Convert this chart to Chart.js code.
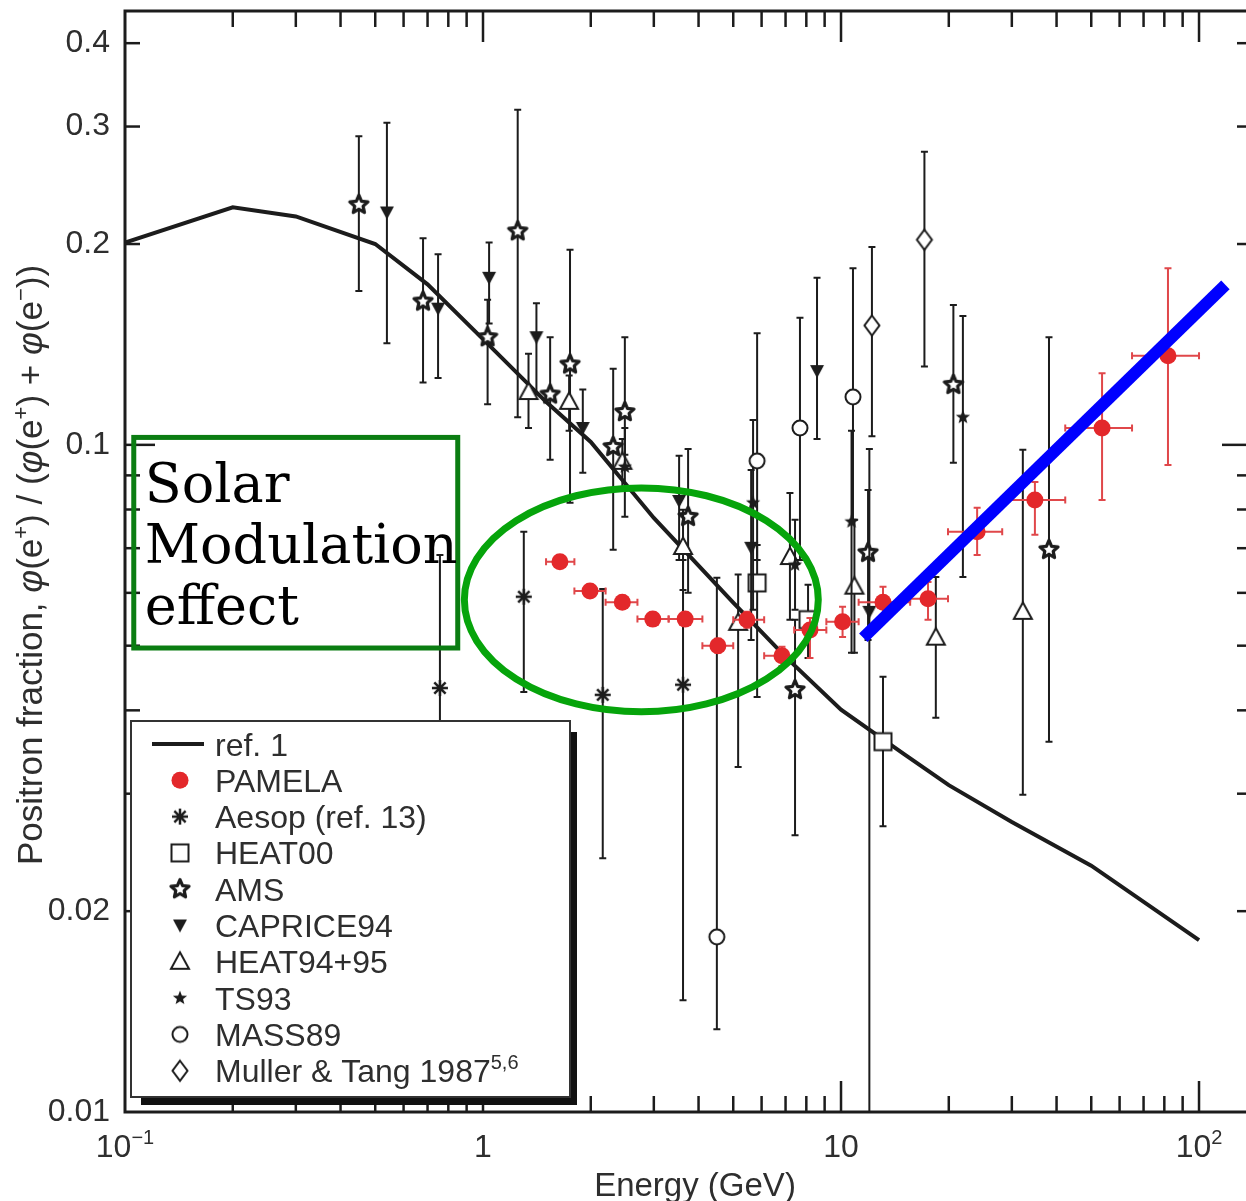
<!DOCTYPE html>
<html><head><meta charset="utf-8">
<title>Positron fraction</title>
<script src="https://cdn.jsdelivr.net/npm/chart.js@4.4.1/dist/chart.umd.min.js"></script>
<style>
html,body{margin:0;padding:0;background:#fff;overflow:hidden;}
canvas{display:block;}
</style></head><body>
<canvas id="chart" width="1256" height="1201"></canvas>
<script>
// ---------- data: energy (GeV) and positron fraction ----------
// ref. 1 secondary-production model curve
const refE = [0.1, 0.2, 0.3, 0.5, 0.7, 1, 1.5, 2, 3, 5, 7, 10, 15, 20, 30, 50, 100];
const refF = [0.201, 0.227, 0.220, 0.200, 0.174, 0.144, 0.116, 0.101, 0.0777, 0.0580, 0.0481, 0.0401, 0.0344, 0.0309, 0.0272, 0.0234, 0.0181];

// PAMELA (bin edges in energy, stat. errors in fraction)
const pamE   = [1.64, 1.99, 2.45, 2.98, 3.67, 4.53, 5.46, 6.84, 8.19, 10.1, 13.1, 17.5, 24.0, 34.8, 53.6, 81.9];
const pamELo = [1.5, 1.8, 2.2, 2.7, 3.3, 4.1, 5.0, 6.1, 7.4, 9.1, 11.2, 15.6, 19.9, 28.2, 42.3, 65];
const pamEHi = [1.8, 2.2, 2.7, 3.3, 4.1, 5.0, 6.1, 7.4, 9.1, 11.2, 15.6, 19.9, 28.2, 42.3, 65, 100];
const pamF   = [0.0668, 0.0604, 0.0581, 0.0548, 0.0548, 0.0500, 0.0547, 0.0483, 0.0528, 0.0543, 0.0581, 0.0588, 0.0741, 0.0827, 0.106, 0.136];
const pamFLo = [0.0654, 0.0592, 0.0570, 0.0537, 0.0537, 0.0488, 0.0532, 0.0466, 0.0479, 0.0515, 0.0550, 0.0547, 0.0684, 0.0733, 0.0827, 0.0933];
const pamFHi = [0.0682, 0.0617, 0.0594, 0.0560, 0.0560, 0.0512, 0.0562, 0.0498, 0.0550, 0.0572, 0.0613, 0.0623, 0.0805, 0.0880, 0.128, 0.184];

// Aesop (ref. 13)
const aesE  = [0.758, 1.30, 2.16, 3.62];
const aesF  = [0.0432, 0.0592, 0.0422, 0.0437];
const aesHi = [0.0684, 0.0741, 0.0608, 0.0672];
const aesLo = [0.0300, 0.0426, 0.0240, 0.0147];

// HEAT00
const h00E  = [5.83, 8.09, 13.1];
const h00F  = [0.0621, 0.0547, 0.0359];
const h00Hi = [0.0708, 0.0617, 0.0449];
const h00Lo = [0.0419, 0.0479, 0.0268];

// AMS
const amsE  = [0.450, 0.680, 1.03, 1.25, 1.54, 1.75, 2.31, 2.49, 3.74, 7.44, 11.9, 20.6, 38.1];
const amsF  = [0.229, 0.164, 0.145, 0.209, 0.119, 0.132, 0.0993, 0.112, 0.0780, 0.0429, 0.0689, 0.123, 0.0696];
const amsHi = [0.290, 0.204, 0.165, 0.318, 0.145, 0.196, 0.130, 0.145, 0.0986, 0.0547, 0.0856, 0.162, 0.145];
const amsLo = [0.170, 0.124, 0.115, 0.110, 0.0950, 0.0819, 0.0696, 0.0966, 0.0600, 0.0260, 0.0510, 0.0940, 0.0359];

// CAPRICE94
const capE  = [0.539, 0.749, 1.04, 1.41, 1.90, 3.53, 5.61, 8.57, 12.0];
const capF  = [0.223, 0.160, 0.178, 0.145, 0.106, 0.0824, 0.0701, 0.129, 0.0562];
const capHi = [0.304, 0.193, 0.201, 0.163, 0.121, 0.0963, 0.0917, 0.178, 0.0986];
const capLo = [0.142, 0.126, 0.152, 0.119, 0.0908, 0.0672, 0.0510, 0.102, 0.008];

// HEAT94+95
const h95E  = [1.34, 1.74, 2.45, 3.62, 5.16, 7.20, 10.9, 18.4, 32.2];
const h95F  = [0.120, 0.116, 0.0943, 0.0703, 0.0541, 0.0679, 0.0613, 0.0514, 0.0562];
const h95Hi = [0.137, 0.127, 0.102, 0.0799, 0.0639, 0.0847, 0.0772, 0.0634, 0.0983];
const h95Lo = [0.106, 0.105, 0.0856, 0.0606, 0.0329, 0.0547, 0.0488, 0.0390, 0.0299];

// TS93
const tsE  = [2.49, 5.68, 7.44, 10.7, 21.9];
const tsF  = [0.0927, 0.0819, 0.0661, 0.0767, 0.110];
const tsHi = [0.106, 0.109, 0.0772, 0.105, 0.156];
const tsLo = [0.0780, 0.0566, 0.0566, 0.0488, 0.0634];

// MASS89
const massE  = [4.50, 5.83, 7.68, 10.8];
const massF  = [0.0183, 0.0946, 0.106, 0.118];
const massHi = [0.0632, 0.147, 0.155, 0.184];
const massLo = [0.0133, 0.0672, 0.0672, 0.0772];

// Muller & Tang 1987
const mulE  = [12.2, 17.1];
const mulF  = [0.151, 0.203];
const mulHi = [0.198, 0.275];
const mulLo = [0.103, 0.131];

// rising trend line drawn over the high-energy PAMELA points
const trendE = [11.54, 118.5];
const trendF = [0.0514, 0.1737];

// highlighted regions (energy / fraction bounds)
const noteBoxE = [0.1058, 0.850];
const noteBoxF = [0.0496, 0.1026];
const noteLines = ['Solar', 'Modulation', 'effect'];
const ovalE = [0.887, 8.64];
const ovalF = [0.0398, 0.0862];

// axis ticks
const xTickValues = [0.1, 1, 10, 100];
const xTickText   = ['10', '1', '10', '10'];
const xTickSup    = ['\u22121', '', '', '2'];
const yTickValues = [0.01, 0.02, 0.1, 0.2, 0.3, 0.4];
const yTickText   = ['0.01', '0.02', '0.1', '0.2', '0.3', '0.4'];

// ---------- styling ----------
const INK = '#1c1c1c';
const TXT = '#2e2e2e';
const SANS = '"Liberation Sans", Arial, sans-serif';

function marker(kind) {
  const s = 26, c = document.createElement('canvas');
  c.width = s; c.height = s;
  const g = c.getContext('2d');
  g.translate(s / 2, s / 2);
  g.strokeStyle = INK; g.fillStyle = '#fff'; g.lineWidth = 2; g.lineJoin = 'miter';
  const poly = (p) => { g.beginPath(); p.forEach(([x, y], i) => i ? g.lineTo(x, y) : g.moveTo(x, y)); g.closePath(); };
  const star = (R, r) => {
    g.beginPath();
    for (let i = 0; i < 10; i++) {
      const a = -Math.PI / 2 + i * Math.PI / 5, q = i % 2 ? r : R;
      g.lineTo(Math.cos(a) * q, Math.sin(a) * q);
    }
    g.closePath();
  };
  switch (kind) {
    case 'square': g.fillRect(-8.5, -8.5, 17, 17); g.strokeRect(-8.5, -8.5, 17, 17); break;
    case 'triUp': poly([[0, -9.5], [9, 7], [-9, 7]]); g.fill(); g.stroke(); break;
    case 'triDown': g.fillStyle = INK; poly([[-7, -6], [7, -6], [0, 7]]); g.fill(); break;
    case 'circle': g.beginPath(); g.arc(0, 0, 7.5, 0, Math.PI * 2); g.fill(); g.stroke(); break;
    case 'diamond': poly([[0, -10], [7.5, 0], [0, 10], [-7.5, 0]]); g.fill(); g.stroke(); break;
    case 'starOpen': g.lineWidth = 3.2; g.lineJoin = 'round'; star(9.5, 4.4); g.fill(); g.stroke(); break;
    case 'starFilled': g.fillStyle = INK; star(7.5, 3.2); g.fill(); break;
    case 'asterisk':
      g.lineWidth = 2.5; g.beginPath();
      for (let k = 0; k < 4; k++) {
        const a = k * Math.PI / 4;
        g.moveTo(-Math.cos(a) * 8, -Math.sin(a) * 8);
        g.lineTo(Math.cos(a) * 8, Math.sin(a) * 8);
      }
      g.stroke(); break;
  }
  return c;
}

const pts = (xs, ys) => xs.map((x, i) => ({ x, y: ys[i] }));
const black = (label, xs, ys, lo, hi, kind, order) => ({
  label, data: pts(xs, ys), pointStyle: marker(kind), pointRadius: 9, order,
  errY: [lo, hi], errColor: INK
});

const datasets = [
  { label: 'trend', data: pts(trendE, trendF), showLine: true, borderColor: '#0000ff', borderWidth: 12,
    borderCapStyle: 'butt', pointRadius: 0, order: 0 },
  { label: 'PAMELA', data: pts(pamE, pamF), pointStyle: 'circle', pointRadius: 8.5,
    backgroundColor: '#e3282b', borderColor: '#e3282b', borderWidth: 0, order: 1,
    errY: [pamFLo, pamFHi], errX: [pamELo, pamEHi], errColor: '#e0474a' },
  black('Muller & Tang 1987', mulE, mulF, mulLo, mulHi, 'diamond', 2),
  black('MASS89', massE, massF, massLo, massHi, 'circle', 3),
  black('TS93', tsE, tsF, tsLo, tsHi, 'starFilled', 4),
  black('HEAT94+95', h95E, h95F, h95Lo, h95Hi, 'triUp', 5),
  black('CAPRICE94', capE, capF, capLo, capHi, 'triDown', 6),
  black('AMS', amsE, amsF, amsLo, amsHi, 'starOpen', 7),
  black('HEAT00', h00E, h00F, h00Lo, h00Hi, 'square', 8),
  black('Aesop (ref. 13)', aesE, aesF, aesLo, aesHi, 'asterisk', 9),
  { label: 'ref. 1', data: pts(refE, refF), showLine: true, borderColor: INK, borderWidth: 4,
    pointRadius: 0, order: 10, tension: 0 }
];
const legendOrder = ['ref. 1', 'PAMELA', 'Aesop (ref. 13)', 'HEAT00', 'AMS', 'CAPRICE94', 'HEAT94+95', 'TS93', 'MASS89', 'Muller & Tang 1987'];
const legendSup = { 'Muller & Tang 1987': '5,6' };

// ---------- text helpers ----------
function font(r, size) {
  const s = r.sup ? Math.round(size * 0.62) : size;
  return (r.it ? 'italic ' : '') + s + 'px ' + SANS;
}
function runWidth(ctx, runs, size) {
  let w = 0;
  runs.forEach(r => { ctx.font = font(r, size); w += ctx.measureText(r.t).width; });
  return w;
}
function drawRuns(ctx, runs, x, y, size) {
  let cx = x;
  runs.forEach(r => {
    ctx.font = font(r, size);
    ctx.fillText(r.t, cx, r.sup ? y - size * 0.4 : y);
    cx += ctx.measureText(r.t).width;
  });
}

// ---------- plugins ----------
const errorBars = {
  id: 'errorBars',
  beforeDatasetDraw(chart, args) {
    const ds = chart.data.datasets[args.index];
    if (!ds.errY) return;
    const { ctx, chartArea: a, scales: { x: sx, y: sy } } = chart;
    ctx.save();
    ctx.beginPath(); ctx.rect(a.left, a.top, a.right - a.left, a.bottom - a.top); ctx.clip();
    ctx.strokeStyle = ds.errColor; ctx.lineWidth = 2;
    const cap = 3.5;
    ds.data.forEach((p, i) => {
      const px = sx.getPixelForValue(p.x), py = sy.getPixelForValue(p.y);
      ctx.beginPath();
      const y1 = sy.getPixelForValue(ds.errY[1][i]), y2 = sy.getPixelForValue(ds.errY[0][i]);
      ctx.moveTo(px, y1); ctx.lineTo(px, y2);
      ctx.moveTo(px - cap, y1); ctx.lineTo(px + cap, y1);
      ctx.moveTo(px - cap, y2); ctx.lineTo(px + cap, y2);
      if (ds.errX) {
        const x1 = sx.getPixelForValue(ds.errX[0][i]), x2 = sx.getPixelForValue(ds.errX[1][i]);
        ctx.moveTo(x1, py); ctx.lineTo(x2, py);
        ctx.moveTo(x1, py - cap); ctx.lineTo(x1, py + cap);
        ctx.moveTo(x2, py - cap); ctx.lineTo(x2, py + cap);
      }
      ctx.stroke();
    });
    ctx.restore();
  }
};

const decorations = {
  id: 'decorations',
  afterDatasetsDraw(chart) {
    const { ctx, chartArea: a, scales: { x: sx, y: sy } } = chart;
    ctx.save();

    // frame
    ctx.strokeStyle = INK; ctx.lineWidth = 3;
    ctx.strokeRect(a.left, a.top, a.right - a.left, a.bottom - a.top);

    // inward ticks
    ctx.lineWidth = 2.5;
    const line = (x1, y1, x2, y2) => { ctx.beginPath(); ctx.moveTo(x1, y1); ctx.lineTo(x2, y2); ctx.stroke(); };
    for (const d of [0.1, 1, 10, 100]) {
      for (let k = 1; k <= 9; k++) {
        const v = d * k;
        if (v <= sx.min || v > sx.max) continue;
        const p = sx.getPixelForValue(v), L = k === 1 ? 31 : 16;
        line(p, a.bottom, p, a.bottom - L);
        line(p, a.top, p, a.top + L);
      }
    }
    for (const d of [0.01, 0.1]) {
      for (let k = 1; k <= 9; k++) {
        const v = d * k;
        if (v <= sy.min || v > sy.max) continue;
        const p = sy.getPixelForValue(v), L = k === 1 ? 30 : 15;
        line(a.left, p, a.left + L, p);
        line(a.right, p, a.right - L, p);
      }
    }

    // tick labels
    ctx.fillStyle = TXT;
    ctx.font = '32px ' + SANS;
    ctx.textAlign = 'right'; ctx.textBaseline = 'middle';
    yTickValues.forEach((v, i) => ctx.fillText(yTickText[i], a.left - 15, sy.getPixelForValue(v)));
    ctx.textAlign = 'left'; ctx.textBaseline = 'alphabetic';
    xTickValues.forEach((v, i) => {
      const runs = [{ t: xTickText[i] }];
      if (xTickSup[i]) runs.push({ t: xTickSup[i], sup: true });
      const w = runWidth(ctx, runs, 32);
      drawRuns(ctx, runs, sx.getPixelForValue(v) - w / 2, a.bottom + 45, 32);
    });

    // axis titles
    ctx.font = '33px ' + SANS;
    ctx.textAlign = 'center';
    ctx.fillText('Energy (GeV)', 695, a.bottom + 84);
    const yTitle = [
      { t: 'Positron fraction, ' }, { t: '\u03c6', it: true }, { t: '(e' }, { t: '+', sup: true },
      { t: ') / (' }, { t: '\u03c6', it: true }, { t: '(e' }, { t: '+', sup: true }, { t: ') + ' },
      { t: '\u03c6', it: true }, { t: '(e' }, { t: '\u2212', sup: true }, { t: '))' }
    ];
    ctx.textAlign = 'left';
    ctx.save();
    ctx.translate(42, 565); ctx.rotate(-Math.PI / 2);
    const tw = runWidth(ctx, yTitle, 35);
    drawRuns(ctx, yTitle, -tw / 2, 0, 35);
    ctx.restore();

    // highlighted solar-modulation box
    const bx0 = sx.getPixelForValue(noteBoxE[0]), bx1 = sx.getPixelForValue(noteBoxE[1]);
    const by0 = sy.getPixelForValue(noteBoxF[1]), by1 = sy.getPixelForValue(noteBoxF[0]);
    ctx.strokeStyle = '#0b7d12'; ctx.lineWidth = 5;
    ctx.strokeRect(bx0, by0, bx1 - bx0, by1 - by0);
    ctx.fillStyle = '#000';
    ctx.font = '54px "DejaVu Serif", serif';
    noteLines.forEach((t, i) => ctx.fillText(t, bx0 + 11, by0 + 65 + i * 61));

    // oval around the low-energy PAMELA points
    const ex0 = sx.getPixelForValue(ovalE[0]), ex1 = sx.getPixelForValue(ovalE[1]);
    const ey0 = sy.getPixelForValue(ovalF[1]), ey1 = sy.getPixelForValue(ovalF[0]);
    ctx.strokeStyle = '#06a40b'; ctx.lineWidth = 7;
    ctx.beginPath();
    ctx.ellipse((ex0 + ex1) / 2, (ey0 + ey1) / 2, (ex1 - ex0) / 2, (ey1 - ey0) / 2, 0, 0, Math.PI * 2);
    ctx.stroke();

    // legend box with drop shadow
    const L = a.left + 6, R = a.left + 445, T = 721, B = 1097;
    ctx.fillStyle = '#fff'; ctx.fillRect(L, T, R - L, B - T);
    ctx.fillStyle = '#111';
    ctx.fillRect(R, T + 11, 7, B - T - 3);
    ctx.fillRect(L + 10, B, R - L - 3, 8);
    ctx.strokeStyle = '#333'; ctx.lineWidth = 2;
    ctx.strokeRect(L, T, R - L, B - T);

    legendOrder.forEach((name, i) => {
      const ds = chart.data.datasets.find(d => d.label === name);
      const cy = 744 + i * 36.3, cx = L + 49;
      if (name === 'ref. 1') {
        ctx.strokeStyle = INK; ctx.lineWidth = 4;
        line(L + 21, cy, L + 73, cy);
      } else if (name === 'PAMELA') {
        ctx.fillStyle = ds.backgroundColor;
        ctx.beginPath(); ctx.arc(cx, cy, 8.5, 0, Math.PI * 2); ctx.fill();
      } else {
        const m = ds.pointStyle;
        ctx.drawImage(m, cx - m.width / 2, cy - m.height / 2);
      }
      ctx.fillStyle = TXT;
      const runs = [{ t: name }];
      if (legendSup[name]) runs.push({ t: legendSup[name], sup: true });
      drawRuns(ctx, runs, L + 84, cy + 11.5, 32);
    });

    ctx.restore();
  }
};

new Chart(document.getElementById('chart'), {
  type: 'scatter',
  data: { datasets },
  options: {
    responsive: false,
    animation: false,
    events: [],
    layout: { autoPadding: false, padding: { left: 125, right: 4, top: 11, bottom: 89 } },
    scales: {
      x: { type: 'logarithmic', min: 0.1, max: 140.6, display: false },
      y: { type: 'logarithmic', min: 0.01, max: 0.447, display: false }
    },
    plugins: { legend: { display: false }, tooltip: { enabled: false } }
  },
  plugins: [errorBars, decorations]
});
</script>
</body></html>
